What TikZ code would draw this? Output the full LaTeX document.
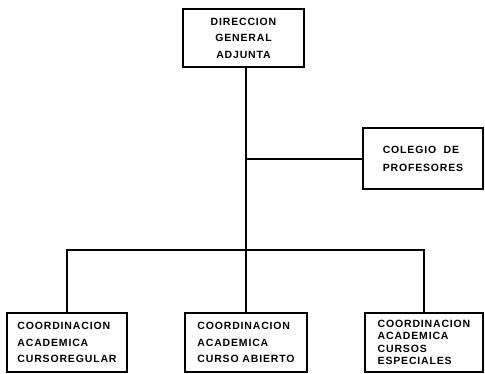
\documentclass[tikz,border=0pt]{standalone}
\usepackage{fontspec}
\newfontfamily\orgfont[LetterSpace=8]{Liberation Sans Bold}
\usetikzlibrary{positioning,calc}

\begin{document}
\begin{tikzpicture}[
      x=1pt,y=-1pt,
      unit/.style={rectangle,draw=black,line width=1.4pt,inner sep=3pt,
                   font=\orgfont\fontsize{10.5}{16.5}\selectfont,align=left},
      link/.style={line width=1.8pt,black}
    ]
    \useasboundingbox (0,0) rectangle (485,374);

    \node[unit,minimum width=121pt,minimum height=58pt,align=center] (DGA) at (243.5,38)
      {DIRECCION\\GENERAL\\ADJUNTA};
    \node[unit,minimum width=120pt,minimum height=61pt,font=\orgfont\fontsize{10.5}{18}\selectfont]
      (CP) at (423,158.5) {COLEGIO\ \ DE\\PROFESORES};

    \node[unit,minimum width=120pt,minimum height=59pt] (CR) at (67,342.5)
      {COORDINACION\\ACADEMICA\\CURSOREGULAR};
    \node[unit,minimum width=122pt,minimum height=59pt] (CA) at (246,342.5)
      {COORDINACION\\ACADEMICA\\CURSO ABIERTO};
    \node[unit,minimum width=118pt,minimum height=59pt,font=\orgfont\fontsize{10.5}{12.5}\selectfont]
      (CE) at (424,342.5) {COORDINACION\\ACADEMICA\\CURSOS\\ESPECIALES};

    \coordinate (bar) at (246,250);
    \coordinate (tap) at (246,159);

    \draw[link] (DGA.south -| bar) -- (bar);
    \draw[link] (tap) -- (CP.west |- tap);
    \draw[link] (CR.north) -- (CR.north |- bar) -- (CE.north |- bar) -- (CE.north);
    \draw[link] (bar) -- (CA.north);

  \end{tikzpicture}
\end{document}
